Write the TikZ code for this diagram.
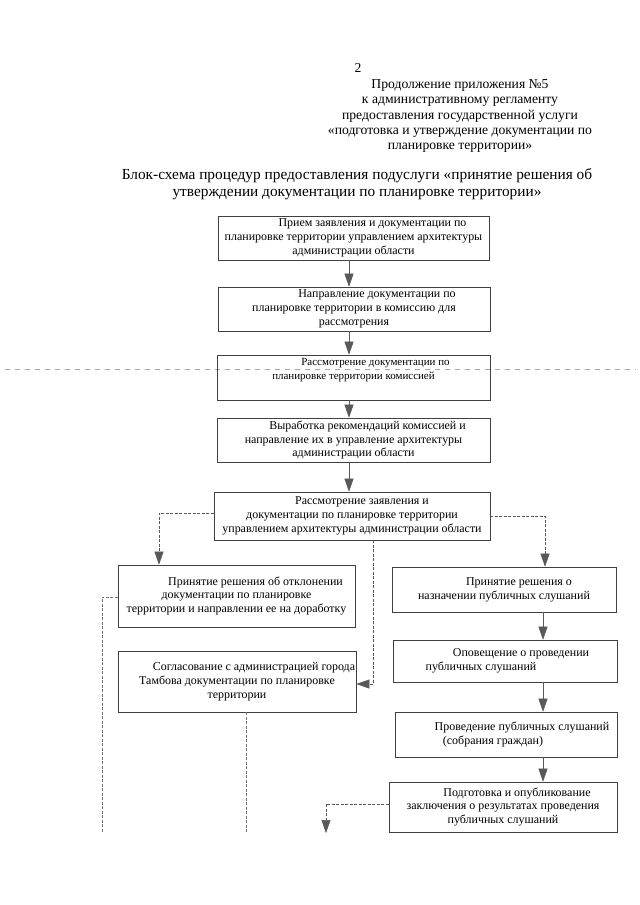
\documentclass[tikz,border=0pt]{standalone}
\usepackage{fontspec}
\setmainfont{Liberation Serif}
\usetikzlibrary{arrows.meta}
\tikzset{
  box/.style={draw=black!75, line width=0.6pt, align=center, inner sep=0pt,
    font=\fontsize{12}{14}\selectfont},
  smallbox/.style={box, font=\fontsize{11}{14}\selectfont},
  link/.style={draw=black!55, line width=0.5pt, dash pattern=on 3bp off 1.5bp},
  solidlink/.style={draw=black!60, line width=0.5pt},
  arr/.style={-{Triangle[length=13bp,width=9bp]}, black!65},
  hdr/.style={align=center, inner sep=0pt, font=\fontsize{13.7}{15.5}\selectfont},
  ttl/.style={align=center, inner sep=0pt, font=\fontsize{15.4}{16.5}\selectfont},
  scan/.style={draw=black!35, line width=0.5pt, dash pattern=on 5bp off 5bp}
}
\begin{document}
\begin{tikzpicture}[x=1bp,y=-1bp]
\useasboundingbox (0,0) rectangle (640,905);
\fill[white] (0,0) rectangle (640,905);
% header
\node[hdr] (pg) at (358,68) {2};
\node[hdr] (app) at (460,116) {Продолжение приложения №5\\к административному регламенту\\предоставления государственной услуги\\«подготовка и утверждение документации по\\планировке территории»};
\node[ttl] (title) at (357,184) {Блок-схема процедур предоставления подуслуги «принятие решения об\\утверждении документации по планировке территории»};
% scan line
\coordinate (sl) at (5,369);
\coordinate (sr) at (636,369);
\draw[scan] (sl) -- (sr);
% boxes
\node[box, minimum width=271bp, minimum height=44bp] (b1) at (353.5,238) {\hspace*{38bp}Прием заявления и документации по\\планировке территории управлением архитектуры\\администрации области};
\node[box, minimum width=272bp, minimum height=44bp] (b2) at (354,309) {\hspace*{46bp}Направление документации по\\планировке территории в комиссию для\\рассмотрения};
\node[smallbox, minimum width=273bp, minimum height=45bp] (b3) at (353.5,377.5) {\hspace*{44bp}Рассмотрение документации по\\планировке территории комиссией\hspace*{60bp}\\[4bp]};
\node[box, minimum width=273bp, minimum height=44bp] (b4) at (353.5,440) {\hspace*{28bp}Выработка рекомендаций комиссией и\\направление их в управление архитектуры\\администрации области};
\node[box, minimum width=276bp, minimum height=48bp] (b5) at (352,516) {\hspace*{20bp}Рассмотрение заявления и\\документации по планировке территории\\управлением архитектуры администрации области};
\node[box, minimum width=237bp, minimum height=62bp] (b6) at (236.5,596) {\hspace*{38bp}Принятие решения об отклонении\\документации по планировке\\территории и направлении ее на доработку};
\node[box, minimum width=238bp, minimum height=61bp] (b8) at (237,681.5) {\hspace*{34bp}Согласование с администрацией города\\Тамбова документации по планировке\\территории};
\node[box, minimum width=224bp, minimum height=45bp] (b7) at (504,589.5) {\hspace*{30bp}Принятие решения о\\назначении публичных слушаний};
\node[box, minimum width=224bp, minimum height=42bp] (b9) at (505,661) {\hspace*{32bp}Оповещение о проведении\\публичных слушаний\hspace*{48bp}};
\node[box, minimum width=222bp, minimum height=45bp] (b10) at (506,734.5) {\hspace*{32bp}Проведение публичных слушаний\\(собрания граждан)\hspace*{26bp}};
\node[box, minimum width=228bp, minimum height=50bp] (b11) at (503,807) {\hspace*{28bp}Подготовка и опубликование\\заключения о результатах проведения\\публичных слушаний};
% main column arrows
\coordinate (mc) at (349,0);
\draw[solidlink, arr] (b1.south -| mc) -- (b2.north -| mc);
\draw[solidlink, arr] (b2.south -| mc) -- (b3.north -| mc);
\draw[solidlink, arr] (b3.south -| mc) -- (b4.north -| mc);
\draw[solidlink, arr] (b4.south -| mc) -- (b5.north -| mc);
% branches from b5
\coordinate (lk) at (159,513);
\draw[link, arr] (b5.west |- lk) -- (lk) -- (lk |- b6.north);
\coordinate (rk) at (545,516);
\draw[link, arr] (b5.east |- rk) -- (rk) -- (rk |- b7.north);
\coordinate (mk) at (373,684);
\draw[link, arr] (mk |- b5.south) -- (mk) -- (b8.east |- mk);
% right column arrows
\coordinate (rc) at (543,0);
\draw[solidlink, arr] (b7.south -| rc) -- (b9.north -| rc);
\draw[solidlink, arr] (b9.south -| rc) -- (b10.north -| rc);
\draw[solidlink, arr] (b10.south -| rc) -- (b11.north -| rc);
% lower lines
\coordinate (lft) at (102,597);
\coordinate (lftend) at (102,833);
\draw[link] (b6.west |- lft) -- (lft) -- (lftend);
\coordinate (b8end) at (246,833);
\draw[link] (b8.south -| b8end) -- (b8end);
\coordinate (bk) at (326,804);
\coordinate (bkend) at (326,833);
\draw[link, arr] (b11.west |- bk) -- (bk) -- (bkend);
\end{tikzpicture}
\end{document}
